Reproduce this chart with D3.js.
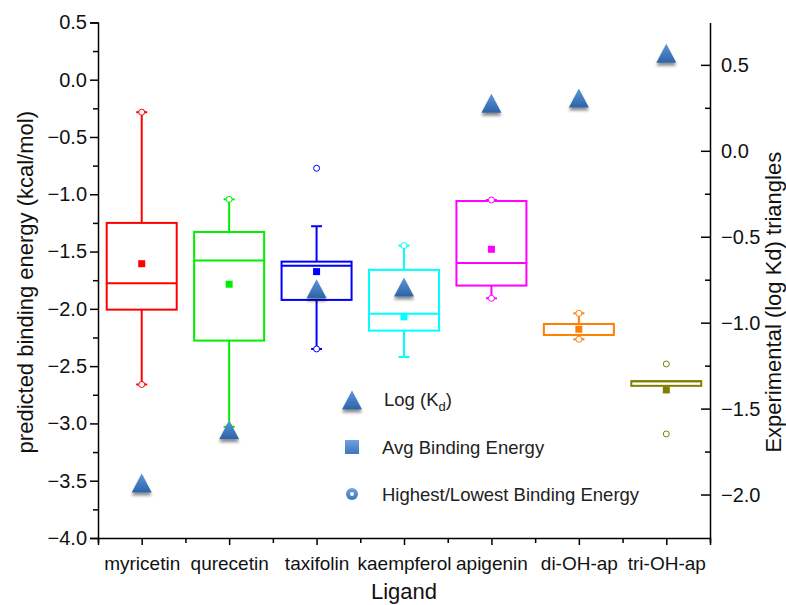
<!DOCTYPE html>
<html>
<head>
<meta charset="utf-8">
<script src="https://cdn.jsdelivr.net/npm/d3@7"></script>
<style>
  html, body { margin: 0; padding: 0; background: #fff; }
  svg { display: block; font-family: "Liberation Sans", Arial, sans-serif; }
</style>
</head>
<body>
<svg id="chart" width="786" height="605"></svg>
<script>
// Ligands and box statistics (predicted binding energy, kcal/mol)
const ligands    = ["myricetin", "qurecetin", "taxifolin", "kaempferol", "apigenin", "di-OH-ap", "tri-OH-ap"];
const boxColors  = ["#ff0000", "#00ee00", "#0000ff", "#00ffff", "#ff00ff", "#ff7f00", "#808000"];
const whiskerLow = [-2.66, -3.03, -2.35, -2.42, -1.908, -2.266, -2.672];
const q1         = [-2.007, -2.277, -1.922, -2.19, -1.797, -2.228, -2.672];
const medians    = [-1.777, -1.579, -1.623, -2.042, -1.60, -2.132, -2.632];
const q3         = [-1.25, -1.329, -1.588, -1.66, -1.059, -2.132, -2.632];
const whiskerHigh= [-0.284, -1.044, -1.279, -1.448, -1.05, -2.039, -2.632];
const means      = [-1.606, -1.785, -1.675, -2.07, -1.48, -2.178, -2.708];
const lowest     = [-2.66, -3.03, -2.35, null, -1.908, -2.266, -3.092];
const highest    = [-0.284, -1.044, -0.773, -1.448, -1.05, -2.039, -2.481];
// Experimental log(Kd), right axis
const logKd      = [-1.93, -1.62, -0.80, -0.79, 0.28, 0.31, 0.57];

const leftTicks  = [0.5, 0.0, -0.5, -1.0, -1.5, -2.0, -2.5, -3.0, -3.5, -4.0];
const rightTicks = [0.5, 0.0, -0.5, -1.0, -1.5, -2.0];

const svg = d3.select("#chart");
const plot = { left: 98, right: 710, top: 22.4, bottom: 538 };

const x = d3.scaleLinear().domain([0.5, ligands.length + 0.5]).range([plot.left, plot.right]);
const yL = d3.scaleLinear().domain([-4.0, 0.5]).range([plot.bottom, plot.top]);
const yR = d3.scaleLinear().domain([-2.25, 0.75]).range([plot.bottom, plot.top]);

const numFont = "20px";
const catFont = "19px";
const titleFont = "22px";

// Defs: triangle gradient and soft shadow
const defs = svg.append("defs");
const grad = defs.append("linearGradient").attr("id", "triGrad")
  .attr("x1", 0).attr("y1", 0).attr("x2", 0).attr("y2", 1);
grad.append("stop").attr("offset", "0%").attr("stop-color", "#5d97db");
grad.append("stop").attr("offset", "100%").attr("stop-color", "#2c63a6");
const sqGrad = defs.append("linearGradient").attr("id", "sqGrad")
  .attr("x1", 0).attr("y1", 0).attr("x2", 0).attr("y2", 1);
sqGrad.append("stop").attr("offset", "0%").attr("stop-color", "#6fa3e3");
sqGrad.append("stop").attr("offset", "100%").attr("stop-color", "#3d74bd");
const shadow = defs.append("filter").attr("id", "shadow")
  .attr("x", "-50%").attr("y", "-50%").attr("width", "200%").attr("height", "200%");
shadow.append("feGaussianBlur").attr("in", "SourceAlpha").attr("stdDeviation", 1.6).attr("result", "b");
shadow.append("feOffset").attr("in", "b").attr("dx", 0).attr("dy", 3).attr("result", "o");
shadow.append("feComponentTransfer").attr("in", "o").attr("result", "s")
  .append("feFuncA").attr("type", "linear").attr("slope", 0.45);
const merge = shadow.append("feMerge");
merge.append("feMergeNode").attr("in", "s");
merge.append("feMergeNode").attr("in", "SourceGraphic");

// Axes
const axisColor = "#000";
const leftAxis = d3.axisLeft(yL).tickValues(leftTicks).tickFormat(d3.format(".1f")).tickSize(8).tickPadding(3);
const gL = svg.append("g").attr("transform", `translate(${plot.left},0)`).call(leftAxis);
gL.selectAll(".tick text").style("font-size", numFont).attr("fill", "#111");
svg.append("g").attr("transform", `translate(${plot.left},0)`)
  .call(d3.axisLeft(yL).tickValues(d3.range(-3.75, 0.5, 0.5)).tickSize(5).tickFormat(""))
  .select(".domain").remove();

const rightAxis = d3.axisRight(yR).tickValues(rightTicks).tickFormat(d3.format(".1f")).tickSize(0).tickPadding(11);
const gR = svg.append("g").attr("transform", `translate(${plot.right},0)`).call(rightAxis);
gR.selectAll(".tick text").style("font-size", numFont).attr("fill", "#111");
// right axis ticks point inward
svg.append("g").selectAll("line").data(rightTicks).join("line")
  .attr("x1", plot.right - 9).attr("x2", plot.right)
  .attr("y1", d => yR(d)).attr("y2", d => yR(d)).attr("stroke", axisColor);
svg.append("g").selectAll("line").data(d3.range(-1.75, 0.75, 0.5)).join("line")
  .attr("x1", plot.right - 5).attr("x2", plot.right)
  .attr("y1", d => yR(d)).attr("y2", d => yR(d)).attr("stroke", axisColor);

const bottomAxis = d3.axisBottom(x).tickValues(d3.range(1, ligands.length + 1))
  .tickFormat((d, i) => ligands[i]).tickSize(7).tickPadding(12);
const gB = svg.append("g").attr("transform", `translate(0,${plot.bottom})`).call(bottomAxis);
gB.selectAll(".tick text").style("font-size", catFont).attr("fill", "#111");
svg.append("g").attr("transform", `translate(0,${plot.bottom})`)
  .call(d3.axisBottom(x).tickValues(d3.range(0.5, ligands.length + 1, 1)).tickSize(5).tickFormat(""))
  .select(".domain").remove();

[gL, gR, gB].forEach(g => g.select(".domain").attr("stroke-width", 1.5).attr("stroke", axisColor));
svg.selectAll(".tick line").attr("stroke-width", 1.5).attr("stroke", axisColor);
svg.selectAll("g > line").attr("stroke-width", 1.5);

// Axis titles
svg.append("text").attr("transform", `translate(33,${(plot.top + plot.bottom) / 2 + 2}) rotate(-90)`)
  .attr("text-anchor", "middle").style("font-size", titleFont).attr("fill", "#111")
  .text("predicted binding energy (kcal/mol)");
svg.append("text").attr("transform", `translate(781,${(plot.top + plot.bottom) / 2 + 22}) rotate(-90)`)
  .attr("text-anchor", "middle").style("font-size", titleFont).attr("fill", "#111")
  .text("Experimental (log Kd) triangles");
svg.append("text").attr("x", 404).attr("y", 599).attr("text-anchor", "middle")
  .style("font-size", titleFont).attr("fill", "#111").text("Ligand");

// Box plots
const boxW = 70, capW = 11;
const boxes = svg.append("g");
ligands.forEach((name, i) => {
  const cx = x(i + 1), c = boxColors[i];
  const g = boxes.append("g").attr("stroke", c).attr("fill", "none");
  // whiskers
  if (whiskerHigh[i] > q3[i]) {
    g.append("line").attr("x1", cx).attr("x2", cx).attr("y1", yL(q3[i])).attr("y2", yL(whiskerHigh[i])).attr("stroke-width", 2);
    g.append("line").attr("x1", cx - capW / 2).attr("x2", cx + capW / 2).attr("y1", yL(whiskerHigh[i])).attr("y2", yL(whiskerHigh[i])).attr("stroke-width", 2);
  }
  if (whiskerLow[i] < q1[i]) {
    g.append("line").attr("x1", cx).attr("x2", cx).attr("y1", yL(q1[i])).attr("y2", yL(whiskerLow[i])).attr("stroke-width", 2);
    g.append("line").attr("x1", cx - capW / 2).attr("x2", cx + capW / 2).attr("y1", yL(whiskerLow[i])).attr("y2", yL(whiskerLow[i])).attr("stroke-width", 2);
  }
  // box
  g.append("rect").attr("x", cx - boxW / 2).attr("y", yL(q3[i]))
    .attr("width", boxW).attr("height", yL(q1[i]) - yL(q3[i]))
    .attr("fill", "#fff").attr("stroke-width", 2);
  // median
  g.append("line").attr("x1", cx - boxW / 2).attr("x2", cx + boxW / 2)
    .attr("y1", yL(medians[i])).attr("y2", yL(medians[i])).attr("stroke-width", 2);
  // mean square
  g.append("rect").attr("x", cx - 3.5).attr("y", yL(means[i]) - 3.5)
    .attr("width", 7).attr("height", 7).attr("fill", c).attr("stroke", "none");
  // highest / lowest
  [highest[i], lowest[i]].forEach(v => {
    if (v === null) return;
    g.append("circle").attr("cx", cx).attr("cy", yL(v)).attr("r", 3)
      .attr("fill", "#fff").attr("stroke-width", 1);
  });
});

// Triangles on the right axis scale
const triPath = "M0,-9.5L10,9.5L-10,9.5Z";
svg.append("g").selectAll("path").data(logKd).join("path")
  .attr("d", triPath)
  .attr("transform", (d, i) => `translate(${x(i + 1)},${yR(d)})`)
  .attr("fill", "url(#triGrad)").attr("filter", "url(#shadow)");

// Legend
const lg = svg.append("g").style("font-size", "18.5px").attr("fill", "#222");
lg.append("path").attr("d", triPath).attr("transform", "translate(352,400)")
  .attr("fill", "url(#triGrad)").attr("filter", "url(#shadow)");
const t1 = lg.append("text").attr("x", 384).attr("y", 406);
t1.append("tspan").text("Log  (K");
t1.append("tspan").attr("dy", 5).style("font-size", "13px").text("d");
t1.append("tspan").attr("dy", -5).text(")");
lg.append("rect").attr("x", 345).attr("y", 440).attr("width", 14).attr("height", 14)
  .attr("fill", "url(#sqGrad)");
lg.append("text").attr("x", 382).attr("y", 454).text("Avg Binding Energy");
lg.append("circle").attr("cx", 352).attr("cy", 494).attr("r", 6).attr("fill", "url(#sqGrad)");
lg.append("circle").attr("cx", 352).attr("cy", 494).attr("r", 2).attr("fill", "#fff");
lg.append("text").attr("x", 382).attr("y", 501).text("Highest/Lowest Binding Energy");
</script>
</body>
</html>
